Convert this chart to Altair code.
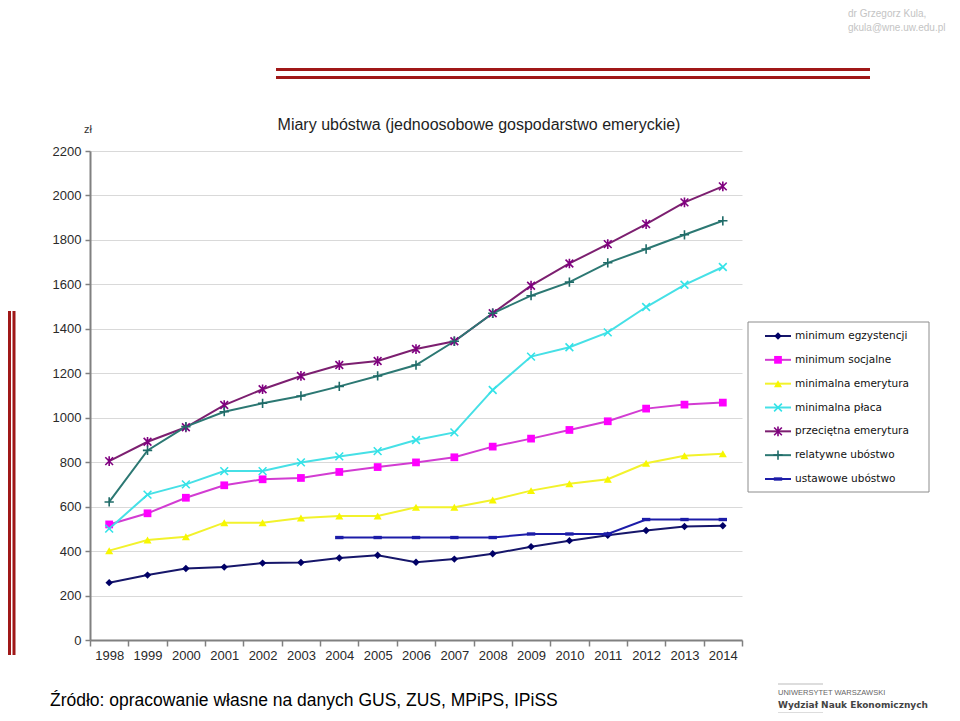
import altair as alt
import pandas as pd

# ---------------- data ----------------
years = list(range(1998, 2015))
names = [
    "minimum egzystencji",
    "minimum socjalne",
    "minimalna emerytura",
    "minimalna płaca",
    "przeciętna emerytura",
    "relatywne ubóstwo",
    "ustawowe ubóstwo",
]
min_egz = [258, 292, 322, 328, 346, 349, 369, 381, 350, 364, 388, 420, 447, 471, 493, 511, 514]
min_soc = [520, 570, 640, 696, 723, 729, 756, 778, 799, 822, 870, 906, 945, 984, 1041, 1059, 1068]
min_emer = [402, 450, 465, 528, 528, 549, 558, 558, 597, 597, 630, 672, 703, 723, 795, 829, 838]
min_placa = [501, 654, 700, 760, 760, 799, 826, 850, 900, 934, 1125, 1275, 1317, 1384, 1498, 1598, 1678]
przec_emer = [805, 892, 957, 1057, 1128, 1188, 1237, 1255, 1309, 1344, 1470, 1594, 1694, 1781, 1871, 1969, 2041]
relat_ub = [621, 853, 960, 1027, 1065, 1098, 1141, 1188, 1237, 1344, 1470, 1549, 1610, 1697, 1759, 1823, 1886]
ustaw_ub = [None, None, None, None, None, None, 461, 461, 461, 461, 461, 477, 477, 477, 542, 542, 542]
y_ticks = list(range(0, 2201, 200))

TITLE = "Miary ubóstwa (jednoosobowe gospodarstwo emeryckie)"
SOURCE = "Źródło: opracowanie własne na danych GUS, ZUS, MPiPS, IPiSS"

line_colors = ["#16166a", "#d23cd2", "#f2f22c", "#46e0e6", "#7c1f70", "#2c7873", "#1c1ca8"]
marker_colors = ["#000066", "#ff00ff", "#f7f700", "#33e3e8", "#800080", "#1f6b68", "#1c1ca8"]

SHAPE_X = "M-1,-1L1,1M-1,1L1,-1"
SHAPE_AST = "M-1,-1L1,1M-1,1L1,-1M0,-1.25L0,1.25"
SHAPE_PLUS = "M-1.2,0L1.2,0M0,-1.2L0,1.2"
SHAPE_DASH = "M-1,-0.4L1,-0.4L1,0.4L-1,0.4Z"

filled_names = [names[0], names[1], names[2], names[6]]
filled_shapes = ["diamond", "square", "triangle-up", SHAPE_DASH]
filled_sizes = [55, 70, 60, 30]
open_names = [names[3], names[4], names[5]]
open_shapes = [SHAPE_X, SHAPE_AST, SHAPE_PLUS]

series = [min_egz, min_soc, min_emer, min_placa, przec_emer, relat_ub, ustaw_ub]
rows = []
for n, vals in zip(names, series):
    for yr, v in zip(years, vals):
        if v is not None:
            rows.append({"year": yr, "series": n, "value": v})
df = pd.DataFrame(rows)
leg = pd.DataFrame({"series": names})

FONT = "Liberation Sans"

x_enc = alt.X(
    "year:O",
    scale=alt.Scale(type="band", paddingInner=0, paddingOuter=0),
    axis=alt.Axis(
        title=None, labelAngle=0, tickBand="extent", grid=False,
        domainColor="#808080", domainWidth=2, tickColor="#808080", tickWidth=1.5,
        tickSize=6, labelFontSize=13, labelColor="#2a2a2a", labelFont=FONT, labelPadding=3,
    ),
)
y_scale = alt.Scale(domain=[0, 2200], nice=False)
y_axis = alt.Axis(
    title=None, values=y_ticks, format="d", grid=True, gridColor="#d9d9d9", gridWidth=1,
    domainColor="#808080", domainWidth=2, tickColor="#808080", tickWidth=1.5, tickSize=5,
    labelFontSize=13, labelColor="#2a2a2a", labelFont=FONT, labelPadding=4,
)

lines = alt.Chart(df).mark_line(strokeWidth=2).encode(
    x=x_enc,
    y=alt.Y("value:Q", scale=y_scale, axis=y_axis),
    color=alt.Color("series:N", scale=alt.Scale(domain=names, range=line_colors), legend=None),
    detail="series:N",
    order="year:O",
)

pts_filled = alt.Chart(df).transform_filter(
    alt.FieldOneOfPredicate(field="series", oneOf=filled_names)
).mark_point(filled=True, opacity=1).encode(
    x=x_enc,
    y=alt.Y("value:Q", scale=y_scale, axis=None),
    color=alt.Color("series:N", scale=alt.Scale(domain=names, range=marker_colors), legend=None),
    shape=alt.Shape("series:N", scale=alt.Scale(domain=filled_names, range=filled_shapes), legend=None),
    size=alt.Size("series:N", scale=alt.Scale(domain=filled_names, range=filled_sizes), legend=None),
)

pts_open = alt.Chart(df).transform_filter(
    alt.FieldOneOfPredicate(field="series", oneOf=open_names)
).mark_point(filled=False, opacity=1, strokeWidth=1.6, size=60).encode(
    x=x_enc,
    y=alt.Y("value:Q", scale=y_scale, axis=None),
    color=alt.Color("series:N", scale=alt.Scale(domain=names, range=marker_colors), legend=None),
    shape=alt.Shape("series:N", scale=alt.Scale(domain=open_names, range=open_shapes), legend=None),
)

# ---------------- manual legend ----------------
leg_y = alt.Y("series:N", scale=alt.Scale(type="point", domain=names, range=[185, 328], padding=0), axis=None)

leg_box = alt.Chart(pd.DataFrame({"a": [0]})).mark_rect(
    fill="white", stroke="#8c8c8c", strokeWidth=1
).encode(x=alt.value(658), x2=alt.value(839), y=alt.value(171), y2=alt.value(341))

leg_rule = alt.Chart(leg).mark_rule(strokeWidth=2).encode(
    x=alt.value(675), x2=alt.value(701), y=leg_y,
    color=alt.Color("series:N", scale=alt.Scale(domain=names, range=line_colors), legend=None),
)
leg_pf = alt.Chart(leg).transform_filter(
    alt.FieldOneOfPredicate(field="series", oneOf=filled_names)
).mark_point(filled=True, opacity=1).encode(
    x=alt.value(688), y=leg_y,
    color=alt.Color("series:N", scale=alt.Scale(domain=names, range=marker_colors), legend=None),
    shape=alt.Shape("series:N", scale=alt.Scale(domain=filled_names, range=filled_shapes), legend=None),
    size=alt.Size("series:N", scale=alt.Scale(domain=filled_names, range=filled_sizes), legend=None),
)
leg_po = alt.Chart(leg).transform_filter(
    alt.FieldOneOfPredicate(field="series", oneOf=open_names)
).mark_point(filled=False, opacity=1, strokeWidth=1.6, size=60).encode(
    x=alt.value(688), y=leg_y,
    color=alt.Color("series:N", scale=alt.Scale(domain=names, range=marker_colors), legend=None),
    shape=alt.Shape("series:N", scale=alt.Scale(domain=open_names, range=open_shapes), legend=None),
)
leg_text = alt.Chart(leg).mark_text(
    align="left", baseline="middle", font="DejaVu Sans", fontSize=10.5, color="#111111"
).encode(x=alt.value(705), y=leg_y, text="series:N")

# ---------------- texts & decorations ----------------
def label(txt, x, y, **kw):
    return alt.Chart(pd.DataFrame({"t": [txt]})).mark_text(**kw).encode(
        x=alt.value(x), y=alt.value(y), text="t:N"
    )

title = label(TITLE, 389, -26, align="center", baseline="middle", font=FONT, fontSize=16, color="#1e1e1e")
unit = label("zł", -2, -21, align="center", baseline="middle", font=FONT, fontSize=11, color="#333333")
source = label(SOURCE, -40, 555, align="left", baseline="alphabetic", font=FONT, fontSize=17.5, color="#000000")
author1 = label("dr Grzegorz Kula,", 758, -137, align="left", baseline="middle", font=FONT, fontSize=10, color="#c4c4c4")
author2 = label("gkula@wne.uw.edu.pl", 758, -123, align="left", baseline="middle", font=FONT, fontSize=10, color="#c4c4c4")
uw1 = label("UNIWERSYTET WARSZAWSKI", 688, 542, align="left", baseline="middle", font=FONT, fontSize=7.5, color="#666666")
uw2 = label("Wydział Nauk Ekonomicznych", 688, 554, align="left", baseline="middle", font="DejaVu Sans", fontSize=9, fontWeight="bold", color="#444444")

def hrule(x1, x2, y, color, w):
    return alt.Chart(pd.DataFrame({"a": [0]})).mark_rule(color=color, strokeWidth=w).encode(
        x=alt.value(x1), x2=alt.value(x2), y=alt.value(y)
    )

def vrule(x, y1, y2, color, w):
    return alt.Chart(pd.DataFrame({"a": [0]})).mark_rule(color=color, strokeWidth=w).encode(
        x=alt.value(x), y=alt.value(y1), y2=alt.value(y2)
    )

red = "#a01818"
deco = [
    hrule(186, 780, -81.5, red, 3),
    hrule(186, 780, -73.5, red, 3),
    vrule(-80.5, 160, 504, red, 3),
    vrule(-76, 160, 504, red, 3),
    hrule(688, 733, 533, "#aaaaaa", 0.8),
    hrule(688, 733, 562, "#aaaaaa", 0.8),
]

chart = alt.layer(
    lines, pts_filled, pts_open,
    leg_box, leg_rule, leg_pf, leg_po, leg_text,
    title, unit, source, author1, author2, uw1, uw2, *deco,
).resolve_scale(
    y="independent", color="independent", shape="independent", size="independent"
).properties(
    width=652, height=489,
    padding={"left": 82, "top": 143, "right": 210, "bottom": 73},
    autosize=alt.AutoSizeParams(type="none"),
    background="white",
).configure_view(strokeWidth=0)

chart.save("out.html", embed_options={"renderer": "svg", "actions": False})
